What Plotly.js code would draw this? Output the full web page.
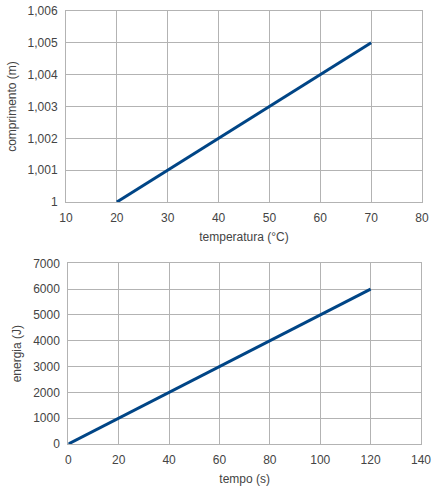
<!DOCTYPE html>
<html><head><meta charset="utf-8">
<script src="https://cdn.plot.ly/plotly-3.0.1.min.js"></script>
<style>html,body{margin:0;padding:0;background:#fff;}#c{width:439px;height:489px;}</style>
</head><body><div id="c"></div>
<script>
// Top chart: length vs temperature
const temperatura = [20, 30, 40, 50, 60, 70];
const comprimento = [1.000, 1.001, 1.002, 1.003, 1.004, 1.005];
const topXTicks = [10, 20, 30, 40, 50, 60, 70, 80];
const topYTicks = [1, 1.001, 1.002, 1.003, 1.004, 1.005, 1.006];
const topYLabels = ['1', '1,001', '1,002', '1,003', '1,004', '1,005', '1,006'];
// Bottom chart: energy vs time
const tempo = [0, 20, 40, 60, 80, 100, 120];
const energia = [0, 1000, 2000, 3000, 4000, 5000, 6000];
const botXTicks = [0, 20, 40, 60, 80, 100, 120, 140];
const botYTicks = [0, 1000, 2000, 3000, 4000, 5000, 6000, 7000];
const botYLabels = ['0', '1000', '2000', '3000', '4000', '5000', '6000', '7000'];

const W = 439, H = 489;
const lineColor = '#004586';
const gridColor = '#b3b3b3';
const tickFont = {family: 'Liberation Sans, Arial, sans-serif', size: 12, color: '#444'};
const titleFont = {family: 'Liberation Sans, Arial, sans-serif', size: 12, color: '#444'};

function ax(domain, range, vals, texts, title) {
  return {
    domain: domain, range: range, tickvals: vals, ticktext: texts || vals.map(String),
    showgrid: true, gridcolor: gridColor, gridwidth: 1,
    showline: true, linecolor: gridColor, linewidth: 1, mirror: true,
    zeroline: false, ticks: '', ticklabelstandoff: 5,
    tickfont: tickFont, title: {text: title, font: titleFont, standoff: 8},
    fixedrange: true
  };
}

const traces = [
  {x: temperatura, y: comprimento, xaxis: 'x', yaxis: 'y', mode: 'lines',
   line: {color: lineColor, width: 3}, hoverinfo: 'skip'},
  {x: tempo, y: energia, xaxis: 'x2', yaxis: 'y2', mode: 'lines',
   line: {color: lineColor, width: 3}, hoverinfo: 'skip'}
];

const layout = {
  width: W, height: H, margin: {l: 0, r: 0, t: 0, b: 0},
  paper_bgcolor: '#fff', plot_bgcolor: '#fff', showlegend: false,
  xaxis: Object.assign(ax([66/W, 422/W], [10, 80], topXTicks, null, 'temperatura (°C)'), {anchor: 'y'}),
  yaxis: Object.assign(ax([1 - 202/H, 1 - 11/H], [1, 1.006], topYTicks, topYLabels, 'comprimento (m)'), {anchor: 'x'}),
  xaxis2: Object.assign(ax([68.3/W, 421/W], [0, 140], botXTicks, null, 'tempo (s)'), {anchor: 'y2'}),
  yaxis2: Object.assign(ax([1 - 444/H, 1 - 263.3/H], [0, 7000], botYTicks, botYLabels, 'energia (J)'), {anchor: 'x2'})
};

Plotly.newPlot('c', traces, layout, {displayModeBar: false, staticPlot: true});
</script></body></html>
